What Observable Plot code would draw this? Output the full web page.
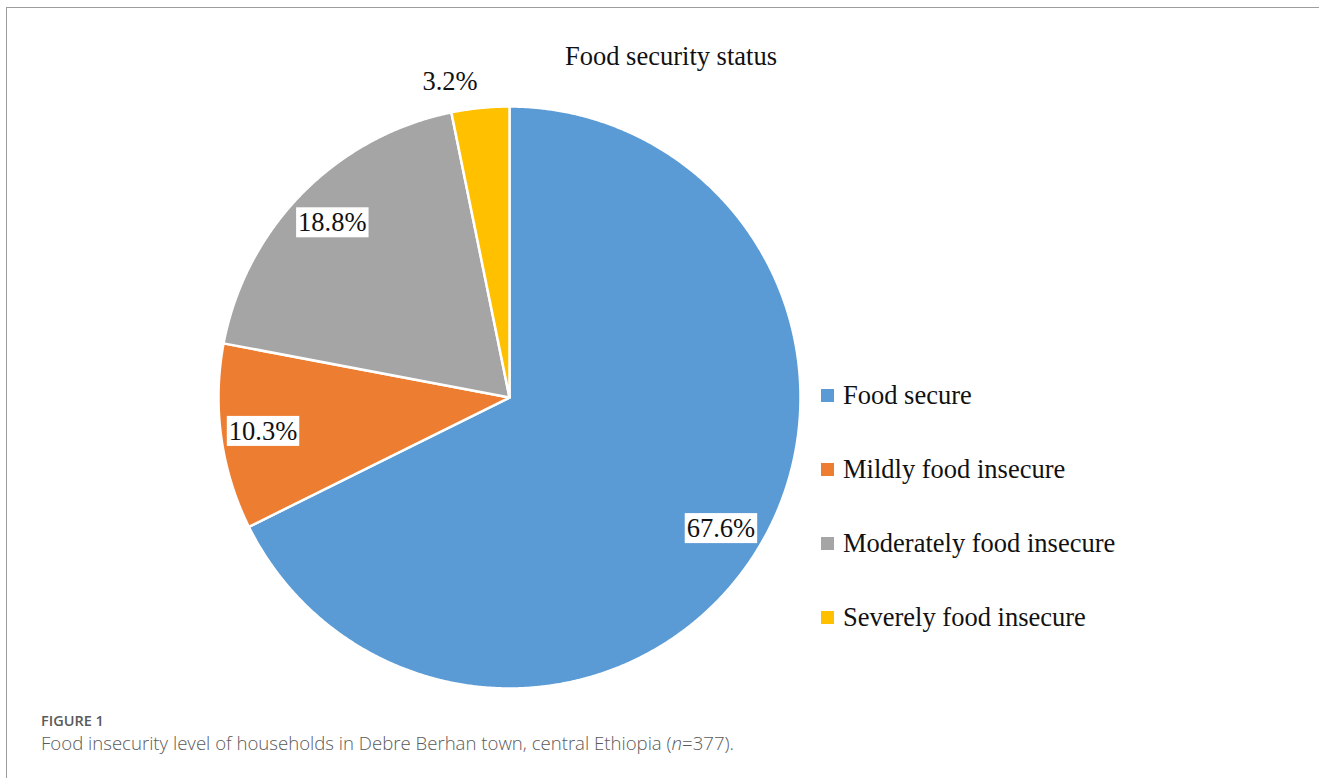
<!DOCTYPE html>
<html><head><meta charset="utf-8">
<script src="https://cdn.jsdelivr.net/npm/d3@7"></script>
<script src="https://cdn.jsdelivr.net/npm/@observablehq/plot@0.6"></script>
<style>
body{margin:0;background:#fff;}
#wrap{position:relative;width:1319px;height:778px;overflow:hidden;background:#fff;}
#frame{position:absolute;left:6px;top:7px;width:1400px;height:900px;border-top:1.5px solid #9d9d9d;border-left:1.5px solid #9d9d9d;}
#chart{position:absolute;left:0;top:0;}
#title{position:absolute;left:471px;width:400px;top:43px;text-align:center;font-family:"Liberation Serif";font-size:26.5px;line-height:1;color:#111;}
#legend{position:absolute;left:821px;top:358px;font-family:"Liberation Serif";font-size:26.5px;color:#111;}
.item{display:flex;align-items:center;height:74px;white-space:nowrap;}
.sw{width:13px;height:13px;margin-right:9px;flex-shrink:0;}
#figlabel{position:absolute;left:41px;top:711px;font-family:"Open Sans";font-weight:600;font-size:14.5px;color:#5a5a5a;white-space:nowrap;}
#caption{position:absolute;left:41px;top:730px;font-family:"Open Sans";font-weight:300;font-size:18.6px;color:#5a5a5a;white-space:nowrap;}
</style></head>
<body>
<div id="wrap">
  <div id="frame"></div>
  <div id="chart"></div>
  <div id="title"></div>
  <div id="legend"></div>
  <div id="figlabel"></div>
  <div id="caption"></div>
</div>
<script>
const categories = ["Food secure", "Mildly food insecure", "Moderately food insecure", "Severely food insecure"];
const percents = [67.6, 10.3, 18.8, 3.2];
const colors = ["#5B9BD5", "#ED7D31", "#A5A5A5", "#FFC000"];
const titleText = "Food security status";
const figLabel = "FIGURE 1";

const rows = categories.map((cat, i) => ({cat, value: percents[i]}));
const arcs = d3.pie().sort(null).value(d => d.value)(rows);

const slicePts = arcs.flatMap(a => {
  const n = Math.max(2, Math.ceil((a.endAngle - a.startAngle) / 0.005));
  const pts = [{cat: a.data.cat, x: 0, y: 0}];
  for (let i = 0; i <= n; i++) {
    const t = a.startAngle + (a.endAngle - a.startAngle) * i / n;
    pts.push({cat: a.data.cat, x: Math.sin(t), y: Math.cos(t)});
  }
  return pts;
});

const fmt = v => v.toFixed(1) + "%";
const labels = arcs.map(a => {
  const m = (a.startAngle + a.endAngle) / 2;
  const out = a.data.value < 5;
  const r = out ? 1.09 : 0.855;
  return {label: fmt(a.data.value), x: Math.sin(m) * r, y: Math.cos(m) * r, out};
});

const plot = Plot.plot({
  width: 1319,
  height: 700,
  margin: 0,
  x: {domain: [-1, 1], range: [218, 800], axis: null},
  y: {domain: [-1, 1], range: [688, 106], axis: null},
  color: {domain: categories, range: colors},
  style: {background: "transparent"},
  marks: [
    Plot.line(slicePts, {x: "x", y: "y", z: "cat", fill: "cat", stroke: "white", strokeWidth: 2.5, strokeLinejoin: "round", curve: "linear-closed"}),
    Plot.text(labels.filter(d => !d.out), {x: "x", y: "y", text: "label", fontSize: 26.5, fontFamily: "Liberation Serif", fill: "#111", textAnchor: "middle", ariaDescription: "inside-labels"}),
    Plot.text(labels.filter(d => d.out), {x: "x", y: "y", text: "label", fontSize: 26.5, fontFamily: "Liberation Serif", fill: "#111", textAnchor: "end"})
  ]
});
document.getElementById("chart").appendChild(plot);

// white boxes behind inside labels
const g = plot.querySelector('g[aria-description="inside-labels"]');
if (g) {
  g.querySelectorAll("text").forEach(t => {
    const bb = t.getBBox();
    const r = document.createElementNS("http://www.w3.org/2000/svg", "rect");
    r.setAttribute("x", bb.x - 2);
    r.setAttribute("y", bb.y);
    r.setAttribute("width", bb.width + 4);
    r.setAttribute("height", bb.height);
    r.setAttribute("fill", "white");
    const tr = t.getAttribute("transform");
    if (tr) r.setAttribute("transform", tr);
    t.parentNode.insertBefore(r, t);
  });
}

document.getElementById("title").textContent = titleText;
const colorScale = plot.scale("color");
const lg = document.getElementById("legend");
colorScale.domain.forEach((c, i) => {
  const item = document.createElement("div");
  item.className = "item";
  const sw = document.createElement("div");
  sw.className = "sw";
  sw.style.background = colorScale.range[i];
  const lab = document.createElement("span");
  lab.textContent = c;
  item.appendChild(sw); item.appendChild(lab);
  lg.appendChild(item);
});
document.getElementById("figlabel").textContent = figLabel;
document.getElementById("caption").innerHTML = "Food insecurity level of households in Debre Berhan town, central Ethiopia (<i>n</i>=377).";
</script>
</body></html>
